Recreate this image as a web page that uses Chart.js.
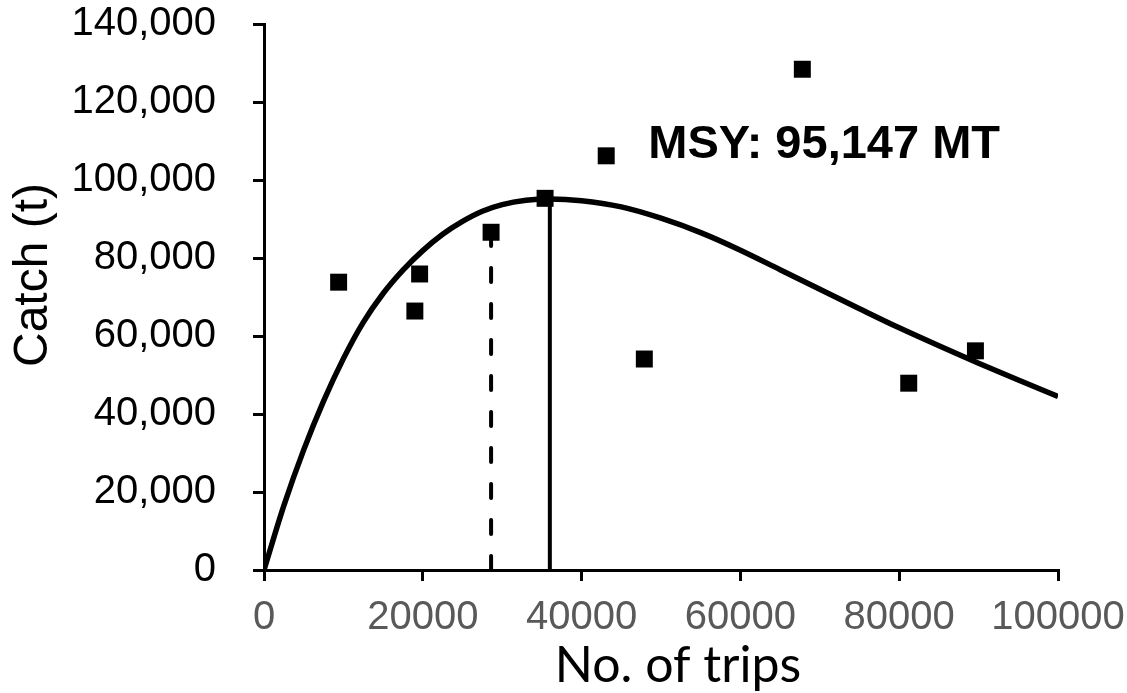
<!DOCTYPE html>
<html>
<head>
<meta charset="utf-8">
<script src="https://cdn.jsdelivr.net/npm/chart.js@4"></script>
<style>
  html, body { margin: 0; padding: 0; background: #fff; }
  #wrap { width: 1127px; height: 693px; }
</style>
</head>
<body>
<div id="wrap"><canvas id="msy-chart" width="1127" height="693"></canvas></div>
<script>
// observed catch vs effort (trips)
var trips = [9400, 19000, 19600, 28600, 35400, 43100, 47900, 67800, 81200, 89600];
var catchT = [73800, 66400, 75900, 86600, 95300, 106200, 54100, 128400, 47900, 56200];

// fitted curve
var curveTrips = [0, 2500, 5000, 7500, 10000, 12500, 15000, 17500, 20000, 22500, 25000, 27500, 30000, 33000, 36000,
    40000, 45000, 50000, 55000, 60000, 65000, 70000, 75000, 80000, 85000, 90000, 95000, 100000];
var curveCatch = [0, 16500, 30800, 43300, 54200, 63500, 70900, 76900, 81900, 86100, 89400, 92000, 93700, 94800, 95147,
    94700, 93100, 90200, 86500, 82000, 77000, 72000, 67000, 62100, 57500, 53000, 48700, 44500];

var fmsyTrips = 36000;
var msy = 95147;
var dashTrips = 28600;
var dashCatch = 86600;
var msyLabel = 'MSY: 95,147 MT';
var xTitle = 'No. of trips';
var yTitle = 'Catch (t)';

var xTicks = [0, 20000, 40000, 60000, 80000, 100000];

function pts(xs, ys) {
    return xs.map((x, i) => ({x: x, y: ys[i]}));
}

// text bits: MSY label + the two axis titles
var textPlugin = {
    id: 'texts',
    afterDraw(chart) {
        const c = chart.ctx;
        const x = chart.scales.x.getPixelForValue(48400);
        const y = chart.scales.y.getPixelForValue(109000);
        c.save();
        c.fillStyle = '#000';
        c.textBaseline = 'middle';
        c.font = 'bold 47px "Liberation Sans", Arial, sans-serif';
        c.textAlign = 'left';
        c.fillText(msyLabel, x, y);

        c.textAlign = 'center';
        c.font = '50px Lato, "Open Sans", sans-serif';
        c.fillText(xTitle, 678, 666);

        c.translate(34, 275);
        c.rotate(-Math.PI / 2);
        c.font = '48px "Liberation Sans", Arial, sans-serif';
        c.fillText(yTitle, 0, 0);
        c.restore();
    }
};

const ctx = document.getElementById('msy-chart').getContext('2d');
var myChart = new Chart(ctx, {
    type: 'scatter',
    data: {
        datasets: [{
            label: 'Observed',
            data: pts(trips, catchT),
            pointStyle: 'rect',
            pointRadius: 12,
            pointHoverRadius: 12,
            pointBorderWidth: 0,
            backgroundColor: '#000',
            borderColor: '#000',
            showLine: false
        }, {
            label: 'Fitted',
            data: pts(curveTrips, curveCatch),
            showLine: true,
            borderColor: '#000',
            borderWidth: 5.5,
            pointRadius: 0,
            cubicInterpolationMode: 'monotone',
            fill: false
        }, {
            label: 'Fmsy',
            data: [{x: fmsyTrips, y: 0}, {x: fmsyTrips, y: msy}],
            showLine: true,
            borderColor: '#000',
            borderWidth: 4,
            pointRadius: 0
        }, {
            label: 'dashed',
            data: [{x: dashTrips, y: 0}, {x: dashTrips, y: dashCatch}],
            showLine: true,
            borderColor: '#000',
            borderWidth: 4,
            borderDash: [14, 22],
            borderCapStyle: 'round',
            pointRadius: 0
        }]
    },
    options: {
        responsive: false,
        animation: false,
        layout: { padding: { top: 24, right: 69, left: 0, bottom: 0 } },
        plugins: {
            legend: { display: false },
            tooltip: { enabled: false }
        },
        scales: {
            x: {
                type: 'linear',
                min: 0,
                max: 100000,
                afterBuildTicks: (axis) => { axis.ticks = xTicks.map(v => ({value: v})); },
                afterFit: (axis) => {
                    axis.height = 123;
                    axis.paddingLeft = 0;
                    axis.paddingRight = 0;
                },
                border: { display: true, color: '#000', width: 3 },
                grid: { drawOnChartArea: false, drawTicks: true, tickLength: 11, color: '#000', lineWidth: 3 },
                ticks: {
                    color: '#595959',
                    font: { family: '"Liberation Sans", Arial, sans-serif', size: 40 },
                    padding: 13,
                    maxRotation: 0,
                    autoSkip: false,
                    callback: (v) => String(v)
                }
            },
            y: {
                min: 0,
                max: 140000,
                afterFit: (axis) => {
                    axis.width = 264;
                    axis.paddingTop = 0;
                    axis.paddingBottom = 0;
                },
                border: { display: true, color: '#000', width: 3 },
                grid: { drawOnChartArea: false, drawTicks: true, tickLength: 11, color: '#000', lineWidth: 3 },
                ticks: {
                    stepSize: 20000,
                    color: '#000',
                    font: { family: '"Liberation Sans", Arial, sans-serif', size: 40 },
                    padding: 37,
                    callback: (v) => v.toLocaleString('en-US')
                }
            }
        }
    },
    plugins: [textPlugin]
});
</script>
</body>
</html>
